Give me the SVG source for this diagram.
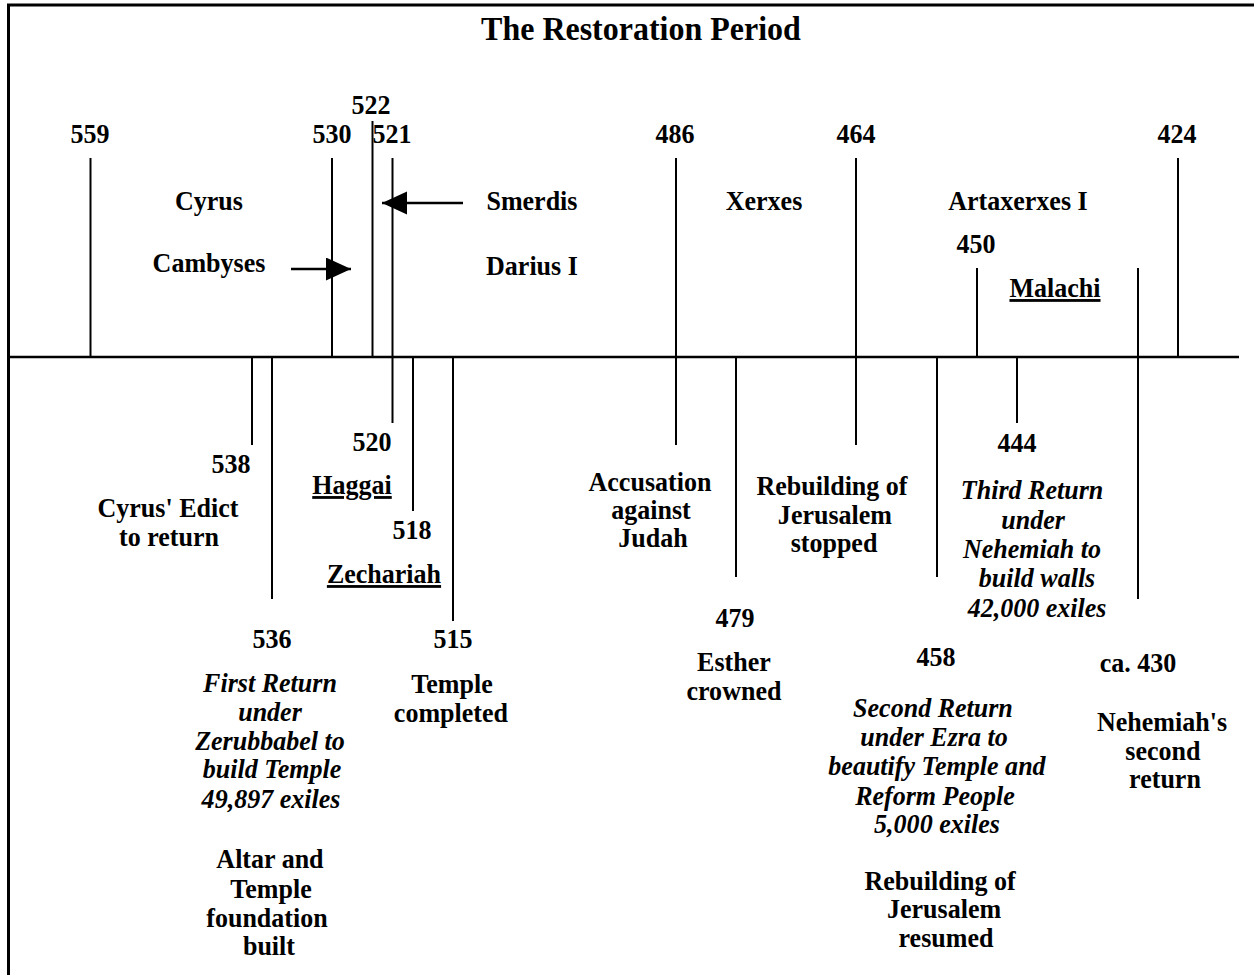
<svg xmlns="http://www.w3.org/2000/svg" width="1254" height="975" viewBox="0 0 1254 975">
<style>
text{font-family:"Liberation Serif","Times New Roman",serif;font-weight:bold;font-size:28px;text-anchor:middle;fill:#000}
.it{font-style:italic}
.ul{text-decoration:underline}
.title{font-size:34.4px}
.tick{stroke:#000;stroke-width:2;fill:none}
.arrow{stroke:#000;stroke-width:2.5;fill:none}
</style>
<defs>
<marker id="ah" markerUnits="userSpaceOnUse" markerWidth="26" markerHeight="24" refX="25" refY="11.5" orient="auto">
<path d="M0,0 L25,11.5 L0,23 z" fill="#000"/>
</marker>
</defs>
<rect width="1254" height="975" fill="#fff"/>
<g id="frame">
<path d="M8.5,975 V5 H1254" stroke="#000" stroke-width="3" fill="none"/>
</g>
<g id="connectors">
<line x1="8" y1="357" x2="1239" y2="357" stroke="#000" stroke-width="2.5"/>
<line class="arrow" x1="291" y1="269" x2="351" y2="269" marker-end="url(#ah)"/>
<line class="arrow" x1="463" y1="203" x2="382" y2="203" marker-end="url(#ah)"/>
</g>
<g id="ticks">
<line class="tick" x1="90.5" y1="158" x2="90.5" y2="357"/>
<line class="tick" x1="332" y1="158" x2="332" y2="357"/>
<line class="tick" x1="372.5" y1="121" x2="372.5" y2="357"/>
<line class="tick" x1="392.5" y1="158" x2="392.5" y2="423"/>
<line class="tick" x1="676" y1="158" x2="676" y2="445"/>
<line class="tick" x1="856" y1="158" x2="856" y2="445"/>
<line class="tick" x1="1178" y1="158" x2="1178" y2="357"/>
<line class="tick" x1="977" y1="268" x2="977" y2="357"/>
<line class="tick" x1="252" y1="357" x2="252" y2="445"/>
<line class="tick" x1="272" y1="357" x2="272" y2="599"/>
<line class="tick" x1="413" y1="357" x2="413" y2="511"/>
<line class="tick" x1="453" y1="357" x2="453" y2="621"/>
<line class="tick" x1="736" y1="357" x2="736" y2="577"/>
<line class="tick" x1="937" y1="357" x2="937" y2="577"/>
<line class="tick" x1="1017" y1="357" x2="1017" y2="423"/>
<line class="tick" x1="1138" y1="268" x2="1138" y2="599"/>
</g>
<g id="labels" transform="scale(0.93,1)">
<g id="title"><text class="title" x="689.2" y="40">The Restoration Period</text></g>
<g id="y559"><text x="96.8" y="143">559</text></g>
<g id="y530"><text x="357" y="143">530</text></g>
<g id="y522"><text x="398.9" y="114">522</text></g>
<g id="y521"><text x="421.5" y="143">521</text><text x="400" y="451">520</text><text class="ul" x="378.5" y="494">Haggai</text></g>
<g id="y486"><text x="725.8" y="143">486</text><text x="698.9" y="491">Accusation</text><text x="700" y="519">against</text><text x="702.2" y="547">Judah</text></g>
<g id="y464"><text x="920.4" y="143">464</text><text x="894.6" y="495">Rebuilding of</text><text x="897.8" y="524">Jerusalem</text><text x="896.8" y="552">stopped</text></g>
<g id="y424"><text x="1265.6" y="143">424</text></g>
<g id="y450"><text x="1049.5" y="253">450</text><text class="ul" x="1134.4" y="297">Malachi</text></g>
<g id="rulers">
<text x="224.7" y="210">Cyrus</text>
<text x="224.7" y="272">Cambyses</text>
<text x="572" y="210">Smerdis</text>
<text x="572" y="275">Darius I</text>
<text x="821.5" y="210">Xerxes</text>
<text x="1094.6" y="210">Artaxerxes I</text>
</g>
<g id="y538"><text x="248.4" y="473">538</text><text x="180.6" y="517">Cyrus' Edict</text><text x="181.7" y="546">to return</text></g>
<g id="y536"><text x="292.5" y="648">536</text>
<text class="it" x="290.3" y="692">First Return</text><text class="it" x="290.3" y="721">under</text><text class="it" x="290.3" y="750">Zerubbabel to</text><text class="it" x="292.5" y="778">build Temple</text><text class="it" x="291.4" y="808">49,897 exiles</text>
<text x="290.3" y="868">Altar and</text><text x="291.4" y="898">Temple</text><text x="287.1" y="927">foundation</text><text x="289.2" y="955">built</text></g>
<g id="y518"><text x="443" y="539">518</text><text class="ul" x="412.9" y="583">Zechariah</text></g>
<g id="y515"><text x="487.1" y="648">515</text><text x="486" y="693">Temple</text><text x="484.9" y="722">completed</text></g>
<g id="y479"><text x="790.3" y="627">479</text><text x="789.2" y="671">Esther</text><text x="789.2" y="700">crowned</text></g>
<g id="y458"><text x="1006.5" y="666">458</text>
<text class="it" x="1003.2" y="717">Second Return</text><text class="it" x="1004.3" y="746">under Ezra to</text><text class="it" x="1007.5" y="775">beautify Temple and</text><text class="it" x="1005.4" y="805">Reform People</text><text class="it" x="1007.5" y="833">5,000 exiles</text>
<text x="1010.8" y="890">Rebuilding of</text><text x="1015.1" y="918">Jerusalem</text><text x="1017.2" y="947">resumed</text></g>
<g id="y444"><text x="1093.5" y="452">444</text>
<text class="it" x="1109.7" y="499">Third Return</text><text class="it" x="1110.8" y="529">under</text><text class="it" x="1109.7" y="558">Nehemiah to</text><text class="it" x="1115.1" y="587">build walls</text><text class="it" x="1115.1" y="617">42,000 exiles</text></g>
<g id="y430"><text x="1223.7" y="672">ca. 430</text><text x="1249.5" y="731">Nehemiah's</text><text x="1250.5" y="760">second</text><text x="1252.7" y="788">return</text></g>
</g>
</svg>
